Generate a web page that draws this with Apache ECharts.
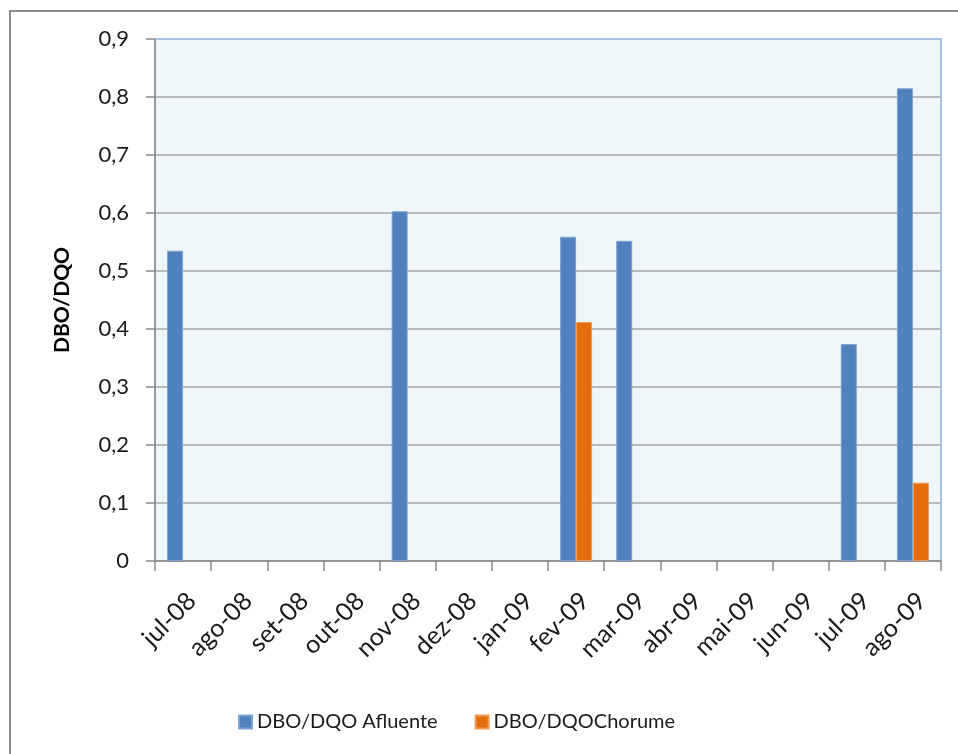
<!DOCTYPE html>
<html>
<head>
<meta charset="utf-8">
<script src="https://cdn.jsdelivr.net/npm/echarts@6/dist/echarts.min.js"></script>
<style>
  html, body { margin: 0; padding: 0; background: #ffffff; }
  #chart { width: 958px; height: 754px; }
</style>
</head>
<body>
<div id="chart"></div>
<script>
// Monthly BOD/COD ratios
const months = ['jul-08', 'ago-08', 'set-08', 'out-08', 'nov-08', 'dez-08', 'jan-09',
                'fev-09', 'mar-09', 'abr-09', 'mai-09', 'jun-09', 'jul-09', 'ago-09'];
const afluente = [0.535, null, null, null, 0.603, null, null, 0.559, 0.552, null, null, null, 0.374, 0.815];
const chorume  = [null, null, null, null, null, null, null, 0.412, null, null, null, null, null, 0.135];
const yTicks = ['0', '0,1', '0,2', '0,3', '0,4', '0,5', '0,6', '0,7', '0,8', '0,9'];

const FONT = 'Lato, "Open Sans", sans-serif';
const chart = echarts.init(document.getElementById('chart'));

chart.setOption({
  animation: false,
  backgroundColor: '#ffffff',
  textStyle: { fontFamily: FONT },
  graphic: [{
    type: 'rect',
    shape: { x: 10, y: 11, width: 1200, height: 1200 },
    style: { fill: 'none', stroke: '#8c8c8c', lineWidth: 2 },
    silent: true
  }],
  grid: {
    left: 155, right: 17, top: 39, bottom: 193,
    show: true,
    backgroundColor: '#eef6f9',
    borderColor: '#8db3e2',
    borderWidth: 1.5
  },
  legend: {
    left: 238, top: 712,
    padding: 0,
    icon: 'rect',
    itemWidth: 13, itemHeight: 13,
    itemGap: 37,
    textStyle: { fontFamily: FONT, fontSize: 20, color: '#1a1a1a' },
    data: ['DBO/DQO Afluente', 'DBO/DQOChorume']
  },
  xAxis: {
    type: 'category',
    data: months,
    axisLine: { lineStyle: { color: '#8c8c8c', width: 1.5 } },
    axisTick: { show: true, length: 10, alignWithLabel: false, lineStyle: { color: '#8c8c8c', width: 1.5 } },
    axisLabel: {
      rotate: 45,
      interval: 0,
      margin: 27,
      align: 'right',
      verticalAlign: 'top',
      fontSize: 25,
      color: '#1a1a1a',
      fontFamily: FONT
    }
  },
  yAxis: {
    type: 'value',
    min: 0, max: 0.9, interval: 0.1,
    name: 'DBO/DQO',
    nameLocation: 'middle',
    nameGap: 82,
    nameRotate: 90,
    nameTextStyle: { fontSize: 21, fontWeight: 'bold', color: '#000000', fontFamily: FONT },
    axisLine: { show: true, lineStyle: { color: '#8c8c8c', width: 1.5 } },
    axisTick: { show: true, length: 9, lineStyle: { color: '#8c8c8c', width: 1.5 } },
    axisLabel: {
      margin: 26,
      fontSize: 22,
      color: '#1a1a1a',
      fontFamily: FONT,
      formatter: (v) => yTicks[Math.round(v * 10)]
    },
    splitLine: {
      show: true,
      showMaxLine: false,
      lineStyle: { color: '#a6a6a6', width: 1.5 }
    }
  },
  series: [
    {
      name: 'DBO/DQO Afluente',
      type: 'bar',
      data: afluente,
      barWidth: 16,
      barGap: '0%',
      itemStyle: { color: '#4f81bd', borderColor: '#7fa3d0', borderWidth: 1 }
    },
    {
      name: 'DBO/DQOChorume',
      type: 'bar',
      data: chorume,
      barWidth: 16,
      barGap: '0%',
      itemStyle: { color: '#e46c0a', borderColor: '#ef9a55', borderWidth: 1 }
    }
  ]
});
</script>
</body>
</html>
